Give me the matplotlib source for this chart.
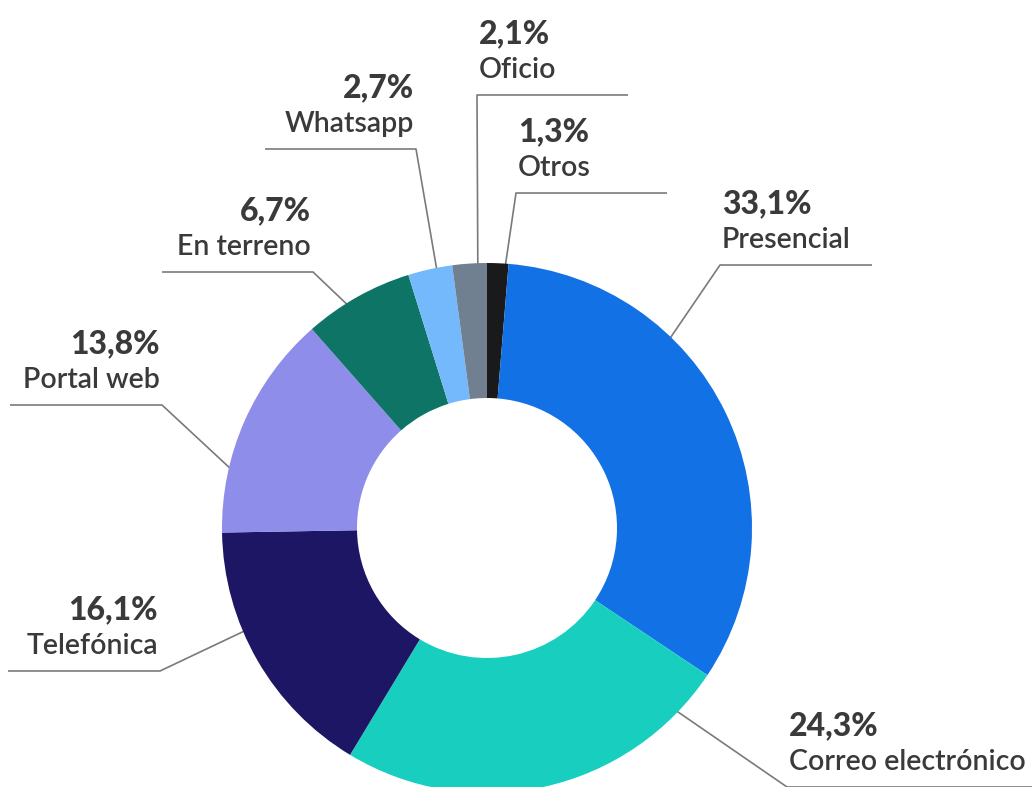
import matplotlib
matplotlib.use("Agg")
import matplotlib.pyplot as plt
import numpy as np

W, H = 1032, 787

# data, clockwise from 12 o'clock
labels = ["Otros", "Presencial", "Correo electrónico", "Telefónica",
          "Portal web", "En terreno", "Whatsapp", "Oficio"]
values = [1.3, 33.1, 24.3, 16.1, 13.8, 6.7, 2.7, 2.1]
pct_text = ["1,3%", "33,1%", "24,3%", "16,1%", "13,8%", "6,7%", "2,7%", "2,1%"]
colors = ["#1a1a1a", "#1271e4", "#18cfbf", "#1d1664",
          "#8e8de9", "#0d7466", "#75b9fd", "#708090"]

# leader layout (pixel coords, y from top): start angle on ring, elbow x/y, end x of the shelf, text side
leaders = {
    "Otros":              (86, 516, 193, 667, "left"),
    "Presencial":         (46, 720, 265, 872, "left"),
    "Correo electrónico": (-44, 787, 787, 1040, "left"),
    "Telefónica":         (203, 160, 671, 8, "right"),
    "Portal web":         (167, 162, 405, 10, "right"),
    "En terreno":         (122, 313, 272, 162, "right"),
    "Whatsapp":           (101, 416, 149, 265, "right"),
    "Oficio":             (92, 477, 95, 628, "left"),
}

cx, cy, r_out, r_in = 487, 528, 265, 130
txt_col = "#3a3a3a"
line_col = "#7a7a7a"

fig = plt.figure(figsize=(W / 100, H / 100), dpi=100)
ax = fig.add_axes([0, 0, 1, 1])

ax.pie(values, colors=colors, startangle=90, counterclock=False,
       center=(cx, H - cy), radius=r_out, frame=True,
       wedgeprops=dict(width=r_out - r_in, linewidth=0, zorder=3))

for lab, pct in zip(labels, pct_text):
    ang, ex, ey, hx, side = leaders[lab]
    a = np.deg2rad(ang)
    sx = cx + (r_out - 2) * np.cos(a)
    sy = cy - (r_out - 2) * np.sin(a)
    ax.plot([sx, ex, hx], [H - sy, H - ey, H - ey], color=line_col, lw=1.2, zorder=2,
            solid_capstyle="butt")
    tx = ex + 2 if side == "left" else ex - 2
    ax.text(tx, H - (ey - 52), pct, ha=side, va="baseline", fontsize=23,
            fontweight="black", family="Lato", color=txt_col, zorder=4)
    ax.text(tx, H - (ey - 17), lab, ha=side, va="baseline", fontsize=20.5,
            fontweight="semibold", family="Lato", color=txt_col, zorder=4)

ax.set_xlim(0, W)
ax.set_ylim(0, H)
ax.set_aspect("equal")
ax.axis("off")

fig.savefig("out.png", dpi=100, facecolor="white")
